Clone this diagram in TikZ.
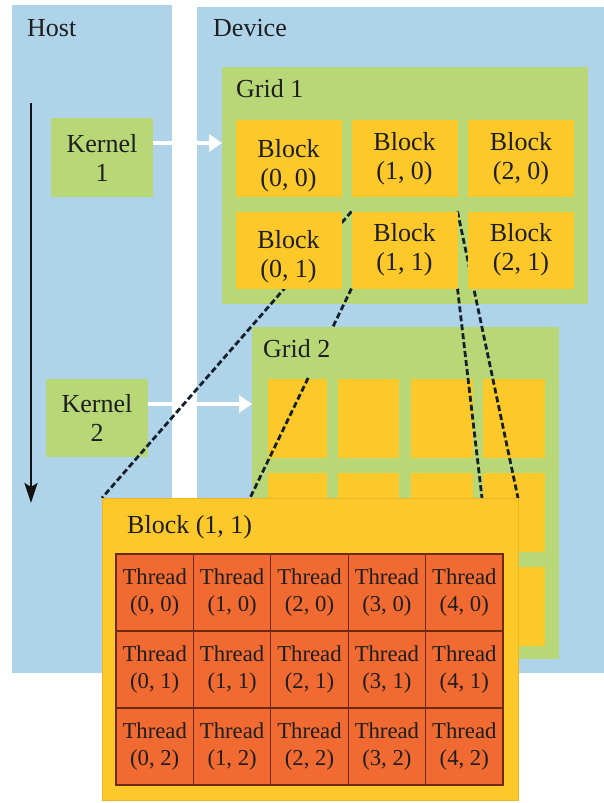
\documentclass[tikz,border=0pt]{standalone}
\usepackage{fontspec}
\setmainfont{Liberation Serif}
\usetikzlibrary{arrows.meta,calc}
\definecolor{hostblue}{HTML}{AFD4EA}
\definecolor{gridgreen}{HTML}{B8D878}
\definecolor{blockyellow}{HTML}{FCC82A}
\definecolor{blockedge}{HTML}{EBB526}
\definecolor{threadorange}{HTML}{F06A32}
\definecolor{threadline}{HTML}{6E2A10}
\definecolor{dashline}{HTML}{15202C}
\definecolor{txt}{HTML}{1E1E1E}
\begin{document}
\begin{tikzpicture}[x=1pt,y=-1pt,
  box/.style={rectangle, inner sep=0pt, outer sep=0pt, draw=none},
  panel/.style={box, fill=hostblue},
  gridbox/.style={box, fill=gridgreen},
  kernel/.style={box, fill=gridgreen, minimum width=102pt, text=txt, align=center,
                 font=\fontsize{26}{29}\selectfont},
  blk/.style={box, fill=blockyellow, minimum width=106pt, minimum height=77pt},
  blktxt/.style={inner sep=0pt, text=txt, align=center, font=\fontsize{26}{29}\selectfont},
  sblk/.style={box, fill=blockyellow, minimum height=79pt},
  lbl/.style={inner sep=0pt, text=txt, anchor=base west, font=\fontsize{26}{29}\selectfont},
  thr/.style={box, fill=threadorange, draw=threadline, line width=1.2pt,
              minimum width=77.4pt, minimum height=77pt, text=txt, align=center,
              font=\fontsize{22.7}{26.5}\selectfont},
  kar/.style={draw=white, line width=4.5pt, -{Triangle[length=13pt,width=17pt]}},
  dl/.style={draw=dashline, line width=2.8pt, dash pattern=on 6pt off 3pt},
  timeline/.style={draw=black!93, line width=2.7pt, -{Stealth[length=20pt,width=13pt,inset=4pt]}}
]
\useasboundingbox (0,0) rectangle (604,803);
\fill[white] (0,0) rectangle (604,803);

% panels
\node[panel, minimum width=160pt, minimum height=668pt] (host) at (92,339) {};
\node[panel, minimum width=407pt, minimum height=666pt] (dev) at (400.5,340) {};
\node[lbl] (hostlbl) at (27,36) {Host};
\node[lbl] (devlbl) at (213,36) {Device};

% grids
\node[gridbox, minimum width=366pt, minimum height=237pt] (g1) at (405,185.5) {};
\node[lbl] (g1lbl) at (236,97) {Grid 1};
\node[gridbox, minimum width=307pt, minimum height=332pt] (g2) at (405.5,493) {};
\node[lbl] (g2lbl) at (263,357) {Grid 2};

% grid 2 blocks
\foreach \cx/\w [count=\i from 0] in {297.5/59, 368.5/61, 442/62, 514/62} {
  \foreach \cy [count=\j from 0] in {418.5, 512.5, 606.5} {
    \node[sblk, minimum width=\w pt] (s-\i-\j) at (\cx,\cy) {};
  }
}

% kernels
\node[kernel, minimum height=79pt] (k1) at (102,157.5) {Kernel\\1};
\node[kernel, minimum height=78pt] (k2) at (97,418) {Kernel\\2};

% kernel launch arrows
\draw[kar] (k1.east |- 0,143) -- (g1.west |- 0,143);
\draw[kar] (k2.east |- 0,404) -- (g2.west |- 0,404);

% grid 1 block (1,1) placed first for the connector anchors
\node[blk] (b11) at (404.5,250) {};

% big block (anchors for the connectors)
\node[box, fill=blockyellow, draw=blockedge, line width=0.8pt,
      minimum width=416pt, minimum height=302pt] (big) at (310,649) {};
\coordinate (l2e) at (250,498);
\coordinate (lAe) at (482,498);

% dashed connectors
\draw[dl] (b11.north west) -- (big.north west);
\draw[dl] (b11.north east) -- (big.north east);
\draw[dl] (b11.south west) -- ($(b11.south west)!0.184!(l2e)$);
\draw[dl] ($(b11.south west)!0.427!(l2e)$) -- (l2e);
\draw[dl] (b11.south east) -- (lAe);

% grid 1 blocks (over the connectors)
\node[blk] (b00) at (288.5,158.5) {};
\node[blk] (b10) at (404.5,158.5) {};
\node[blk] (b20) at (521,158.5) {};
\node[blk] (b01) at (288.5,250) {};
\node[blk] (b11top) at (404.5,250) {};
\node[blk] (b21) at (521,250) {};
\node[blktxt] (t00) at ($(b00.center)+(0,7)$) {Block\\(0, 0)};
\node[blktxt] (t10) at (b10.center) {Block\\(1, 0)};
\node[blktxt] (t20) at (b20.center) {Block\\(2, 0)};
\node[blktxt] (t01) at ($(b01.center)+(0,7)$) {Block\\(0, 1)};
\node[blktxt] (t11) at (b11top.center) {Block\\(1, 1)};
\node[blktxt] (t21) at (b21.center) {Block\\(2, 1)};

% big block content (redrawn over connector ends)
\node[box, fill=blockyellow, draw=blockedge, line width=0.8pt,
      minimum width=416pt, minimum height=302pt] (bigtop) at (310,649) {};
\node[lbl] (biglbl) at (127,533) {Block (1, 1)};
\foreach \i in {0,...,4} {
  \foreach \j in {0,1,2} {
    \node[thr] (t-\i-\j) at ({116+77.4*(\i+0.5)},{554+77*(\j+0.5)}) {Thread\\(\i, \j)};
  }
}

% host timeline
\coordinate (tl0) at (31,103);
\coordinate (tl1) at (31,503);
\draw[timeline] (tl0) -- (tl1);
\end{tikzpicture}
\end{document}
